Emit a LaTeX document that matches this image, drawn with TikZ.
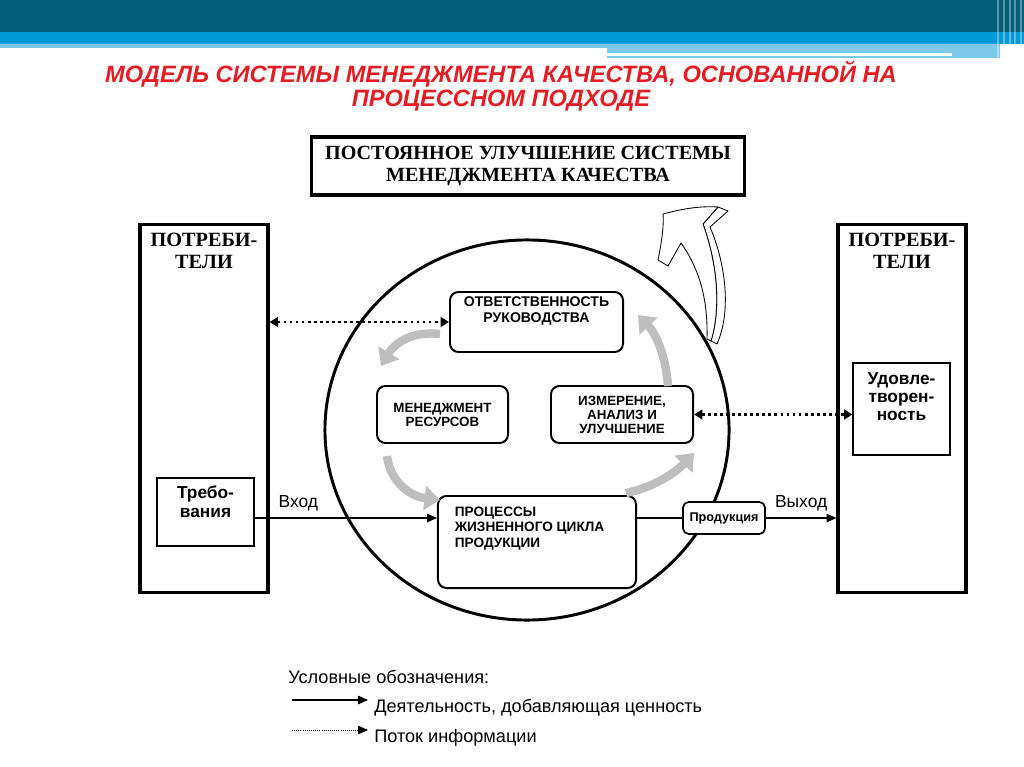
\documentclass[tikz,border=0pt]{standalone}
\usepackage{fontspec}
\setmainfont{Liberation Sans}
\newfontfamily\timesfont{Liberation Serif}
\usetikzlibrary{positioning}
\usetikzlibrary{arrows.meta, shapes.geometric}

\definecolor{bannerdark}{RGB}{2,94,122}
\definecolor{bannerblue}{RGB}{0,155,215}
\definecolor{bannerlight}{RGB}{125,200,232}
\definecolor{titlered}{RGB}{228,28,36}
\definecolor{cyclegray}{RGB}{190,190,190}

\tikzset{
  consumer/.style={draw, line width=2.2pt, minimum width=3.2cm, minimum height=9.175cm},
  headtext/.style={font=\timesfont\bfseries\fontsize{14.4}{15.5}\selectfont, align=center, inner sep=0pt},
  stage/.style={draw, fill=white, rounded corners=6pt, line width=1.4pt, font=\bfseries\fontsize{9.5}{10}\selectfont, align=center},
  stagetext/.style={font=\bfseries\fontsize{9.7}{11.3}\selectfont, align=center, inner sep=0pt},
  need/.style={draw, line width=0.8pt, minimum width=2.425cm},
  needtext/.style={font=\bfseries\fontsize{12.3}{14}\selectfont, align=center, inner sep=0pt},
  flow/.style={line width=0.9pt, -{Triangle[length=7pt, width=6pt]}},
  info/.style={line width=1.8pt, dash pattern=on 2pt off 2.3pt, {Triangle[length=6pt, width=7pt]}-{Triangle[length=6pt, width=7pt]}},
  turn/.style={cyclegray, line width=6pt, -{Triangle[length=11pt, width=17pt]}},
  legendtext/.style={font=\fontsize{12.9}{14}\selectfont, anchor=west, inner sep=0pt},
}

\begin{document}
\begin{tikzpicture}[x=0.025cm, y=-0.025cm]

    \useasboundingbox (0,0) rectangle (1024,767);

    % banner
    \fill[bannerdark] (0,0) rectangle (1024,32);
    \fill[bannerblue] (0,32) rectangle (1024,44);
    \fill[bannerlight] (0,44) rectangle (607,48);
    \fill[bannerlight] (607,44) rectangle (1000,58);
    \fill[white] (607,53) rectangle (952,56);
    \foreach \x in {997,1003,1009,1014,1020}
        \fill[white, opacity=0.35] (\x,0) rectangle ++(2,62);

    \node[font=\bfseries\itshape\fontsize{16.8}{17}\selectfont, text=titlered, align=center] (title) at (501,86)
        {МОДЕЛЬ СИСТЕМЫ МЕНЕДЖМЕНТА КАЧЕСТВА, ОСНОВАННОЙ НА\\ПРОЦЕССНОМ ПОДХОДЕ};

    \node[draw, line width=2.2pt, minimum width=10.8cm, minimum height=1.45cm, headtext, font=\timesfont\bfseries\fontsize{14.3}{15}\selectfont] (improve) at (528,166)
        {ПОСТОЯННОЕ УЛУЧШЕНИЕ СИСТЕМЫ\\МЕНЕДЖМЕНТА КАЧЕСТВА};

    \node[consumer] (custL) at (204,408.5) {};
    \node[headtext, below=6.5pt of custL.north] (custLtitle) {ПОТРЕБИ-\\ТЕЛИ};
    \node[consumer] (custR) at (902,408.5) {};
    \node[headtext, below=6.5pt of custR.north] (custRtitle) {ПОТРЕБИ-\\ТЕЛИ};

    \node[need, minimum height=1.7cm] (req) at (205.5,512) {};
    \node[needtext, below=5.5pt of req.north] (reqtext) {Требо-\\вания};
    \node[need, minimum height=2.3cm] (sat) at (901.5,409) {};
    \node[needtext, below=7pt of sat.north, font=\bfseries\fontsize{12.3}{12.8}\selectfont] (sattext) {Удовле-\\творен-\\ность};

    \node[draw, ellipse, line width=2.1pt, minimum width=10.1cm, minimum height=9.5cm] (cycle) at (527,430) {};

    \node[stage, minimum width=4.325cm, minimum height=1.5cm] (resp) at (536.5,322) {};
    \node[stagetext, font=\bfseries\fontsize{10}{11.3}\selectfont, below=4pt of resp.north] (resptext) {ОТВЕТСТВЕННОСТЬ\\РУКОВОДСТВА};
    \node[stage, minimum width=3.275cm, minimum height=1.425cm] (res) at (442.5,414.5) {МЕНЕДЖМЕНТ\\РЕСУРСОВ};
    \node[stage, minimum width=3.55cm, minimum height=1.425cm] (meas) at (622,414.5) {ИЗМЕРЕНИЕ,\\АНАЛИЗ И\\УЛУЧШЕНИЕ};
    \node[stage, minimum width=4.95cm, minimum height=2.3cm] (proc) at (537,542) {};
    \node[stagetext, align=left, below right=8pt and 12.5pt of proc.north west] (proctext) {ПРОЦЕССЫ\\ЖИЗНЕННОГО ЦИКЛА\\ПРОДУКЦИИ};
    \node[stage, rounded corners=4pt, line width=1.2pt, minimum width=2.05cm, minimum height=0.8cm, font=\bfseries\fontsize{9}{10}\selectfont] (prod) at (724,518) {Продукция};

    \draw[flow] (req.east |- prod.west) -- node[pos=0.24, above=1pt, font=\fontsize{12.4}{13}\selectfont] {Вход} (proc.west |- prod.west);
    \draw[line width=0.9pt] (proc.east |- prod.west) -- (prod.west);
    \draw[flow] (prod.east) -- node[midway, above=1pt, font=\fontsize{12.4}{13}\selectfont] {Выход} (custR.west |- prod.east);

    \draw[info] (custL.east |- resp.west) -- (resp.west);
    \draw[info] (meas.east) -- (meas.east -| sat.west);

    % cycle arrows
    \coordinate (t1a) at (440,334);
    \coordinate (t1b) at (381,366);
    \coordinate (t2a) at (387,456);
    \coordinate (t2b) at (440,500);
    \coordinate (t3a) at (626,493);
    \coordinate (t3b) at (694,453);
    \coordinate (t4a) at (668,386);
    \coordinate (t4b) at (638,315);
    \draw[turn] (t1a) .. controls (415,331) and (396,341) .. (t1b);
    \draw[turn] (t2a) .. controls (390,480) and (408,496) .. (t2b);
    \draw[turn] (t3a) .. controls (655,487) and (676,472) .. (t3b);
    \draw[turn] (t4a) .. controls (666,356) and (656,334) .. (t4b);

    % improvement arrow
    \draw[fill=white, line width=0.6pt, line join=round]
        (718,207) -- (728,211) -- (710,227) .. controls (725,262) and (732,310) .. (717,344)
        -- (711,341) .. controls (722,305) and (716,260) .. (703,224) -- cycle;
    \draw[fill=white, line width=0.6pt, line join=round]
        (663,214) .. controls (685,208) and (702,206) .. (718,207) -- (703,224)
        .. controls (716,260) and (722,305) .. (711,341) -- (707,339)
        .. controls (708,300) and (700,270) .. (681,243) -- (668,266) -- (658,260)
        .. controls (662,240) and (664,225) .. (663,214) -- cycle;

    % legend
    \node[legendtext] (legtitle) at (288,677) {Условные обозначения:};
    \coordinate (solidA) at (292,700);
    \coordinate (solidB) at (368,700);
    \draw[flow] (solidA) -- (solidB);
    \node[legendtext] (legsolid) at (374,708) {Деятельность, добавляющая ценность};
    \coordinate (dotA) at (292,730);
    \coordinate (dotB) at (368,730);
    \draw[line width=0.6pt, dash pattern=on 0.6pt off 0.9pt, -{Triangle[length=7pt, width=6pt]}] (dotA) -- (dotB);
    \node[legendtext] (legdot) at (374,738) {Поток информации};

\end{tikzpicture}
\end{document}
